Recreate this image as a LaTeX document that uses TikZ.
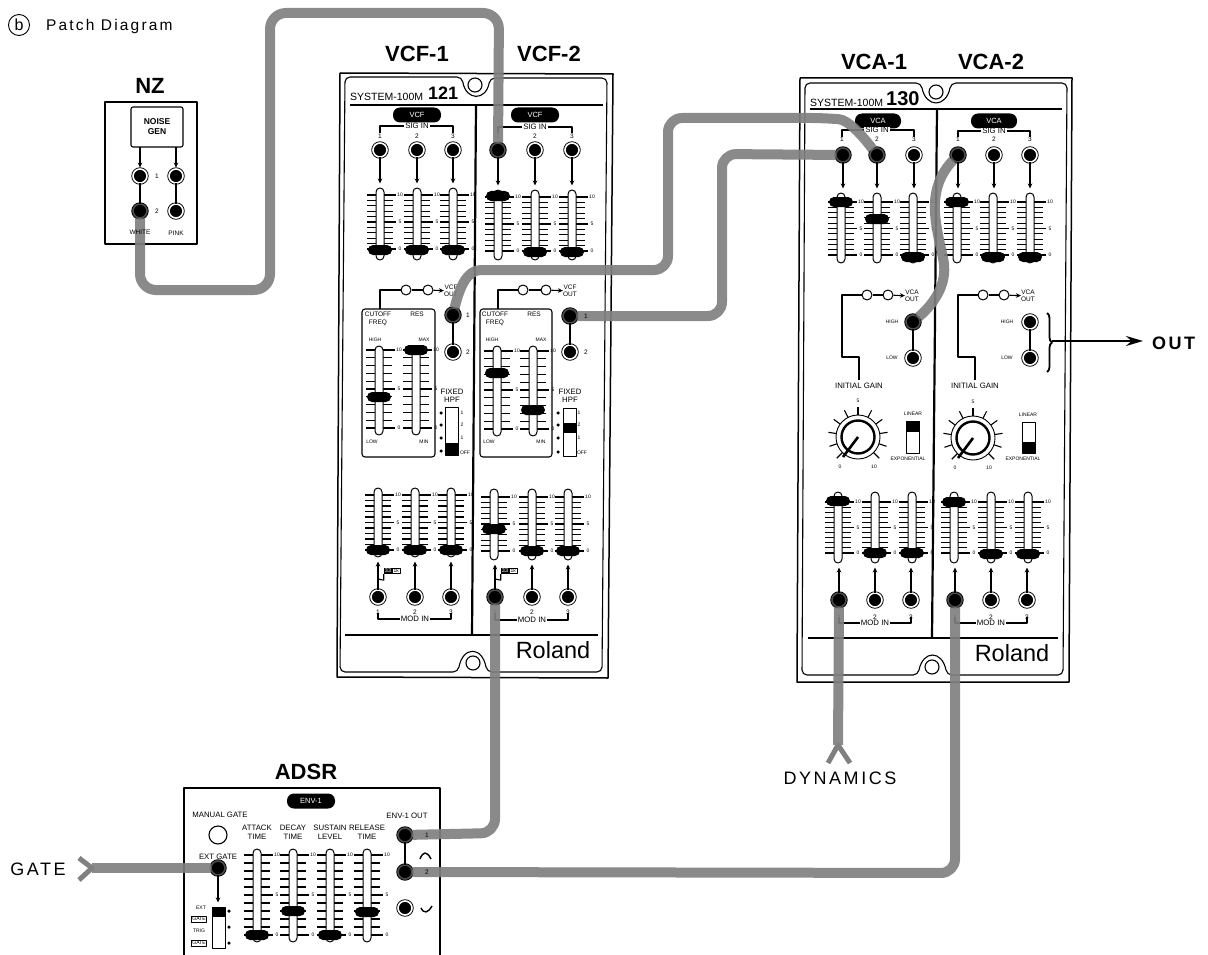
\documentclass[tikz,border=0pt]{standalone}
\usepackage{fontspec}
\setmainfont{Liberation Sans}
\newfontfamily\widefont[LetterSpace=14]{Liberation Sans}
\usepackage{tikz}
\usetikzlibrary{arrows.meta,positioning,decorations.pathreplacing}
% one fader: name, x, slot top, slot bottom, y of 10, y of 0, y of knob
\newcommand{\fader}[7]{%
  \foreach \tk in {0,...,10} {\draw[tickline] ({#2-13},{#6+(#5-#6)*\tk/10}) -- ({#2+13},{#6+(#5-#6)*\tk/10});}
  \foreach \tk/\tn in {10/a,5/b,0/c} {
    \draw[tickline] ({#2+13},{#6+(#5-#6)*\tk/10}) -- ({#2+16},{#6+(#5-#6)*\tk/10});
    \node[lbs] (n#1\tn) at ({#2+20},{#6+(#5-#6)*\tk/10}) {\tk};}
  \node[slot,minimum height=#4-#3] (f#1) at (#2,{(#3+#4)/2}) {};
  \node[knob] (k#1) at (#2,#7) {};}
% switch: name, x, top, bottom, top and bottom of the black part
\newcommand{\slideswitch}[6]{%
  \node[swbox,minimum height=#4-#3] (s#1) at (#2,{(#3+#4)/2}) {};
  \node[swblack,minimum height=#6-#5] (b#1) at (#2,{(#5+#6)/2}) {};}
% bracket with its text and the numbers 1 2 3: name, x1, x2, x3, y of bar, y of ends, y of numbers, text
\newcommand{\portbracket}[8]{%
  \node[labm,fill=white,inner xsep=1pt] (t#1) at (#3,#5) {#8};
  \coordinate (l#1) at (#2,#6); \coordinate (r#1) at (#4,#6);
  \draw[wire] (l#1) |- (t#1.west); \draw[wire] (r#1) |- (t#1.east);
  \node[lab] (x#1a) at (#2,#7) {1}; \node[lab] (x#1b) at (#3,#7) {2}; \node[lab] (x#1c) at (#4,#7) {3};}
% attenuator knob: name, x, y
\newcommand{\gainknob}[3]{%
  \foreach \aa in {225,198,...,-45} {\draw[tickline] ({#2+21*cos(\aa)},{#3-21*sin(\aa)}) -- ({#2+30*cos(\aa)},{#3-30*sin(\aa)});}
  \node[circle,draw,fill=white,minimum size=44,inner sep=0,line width=.9] (o#1) at (#2,#3) {};
  \node[circle,draw,minimum size=33,inner sep=0,line width=2.4] (i#1) at (#2,#3) {};
  \draw[line width=2.6] (i#1.center) -- ({#2-15},{#3+20});
  \node[lbs] (p#1) at (#2,{#3-36}) {5};
  \node[lbs] (q#1) at ({#2-18},{#3+30}) {0};
  \node[lbs] (w#1) at ({#2+16},{#3+30}) {10};}
\begin{document}
\begin{tikzpicture}[x=1pt,y=-1pt,line join=round,
  >={Stealth[length=5pt,width=4.5pt]},
  lab/.style={font=\fontsize{6.5}{7.5}\selectfont,align=center,inner sep=0pt},
  labm/.style={font=\fontsize{7.8}{8.6}\selectfont,align=center,inner sep=0pt},
  lbs/.style={font=\fontsize{5}{6}\selectfont,align=center,inner sep=0pt},
  ttl/.style={font=\fontsize{22}{24}\selectfont\bfseries,inner sep=0pt},
  big/.style={font=\fontsize{18}{20}\selectfont\widefont,inner sep=0pt},
  tickline/.style={line width=1.1},
  wire/.style={line width=1.1},
  panel/.style={line width=1.5},
  heavy/.style={line width=2.2},
  sarrow/.style={->,line width=1.1,shorten >=4pt},
  slot/.style={draw,fill=white,line width=1,rounded corners=4,minimum width=8,inner sep=0},
  knob/.style={fill=black,rounded corners=5,minimum width=24,minimum height=10,inner sep=0},
  swbox/.style={draw,fill=white,line width=1,minimum width=13,inner sep=0},
  swblack/.style={fill=black,minimum width=13,inner sep=0},
  dot/.style={circle,fill=black,minimum size=3.5,inner sep=0},
  lamp/.style={circle,draw,fill=white,line width=1,minimum size=10,inner sep=0},
  hole/.style={circle,draw,line width=1.1,minimum size=14,inner sep=0},
  jack/.style={circle,draw=black,fill=black,line width=.9,double=white,double distance=1.6,minimum size=14,inner sep=0},
  pjack/.style={circle,draw=black,fill=black,line width=.9,double=black!70,double distance=1.6,minimum size=14,inner sep=0},
  pill/.style={fill=black,text=white,rounded corners=7,minimum width=48,minimum height=15,inner sep=0,font=\fontsize{7.5}{8}\selectfont},
  cable/.style={line width=10,draw=black!50,draw opacity=.92},
  fork/.style={line width=5,draw=black!50}]
\useasboundingbox (0,0) rectangle (1208,955);
% heading
\node[circle,draw,line width=.9,minimum size=21,inner sep=0,font=\fontsize{16}{17}\selectfont] (mark) at (19,25) {b};
\node[anchor=west,inner sep=0,font=\fontsize{15.5}{18}\selectfont\widefont] (head) at (46,26) {Patch Diagram};
% noise generator
\node[ttl] (tNZ) at (150,86) {NZ};
\node[draw,panel,minimum width=92,minimum height=142,inner sep=0] (pNZ) at (151,173) {};
\node[draw,wire,rounded corners=2,minimum width=52,minimum height=40,inner sep=0,font=\fontsize{8.5}{10}\selectfont\bfseries,align=center] (gen) at (157,127) {NOISE\\GEN};
\foreach \n/\x/\y/\sty in {wa/140/176/jack,pa/176/176/jack,wb/140/211/pjack,pb/176/211/jack} {\node[\sty] (j\n) at (\x,\y) {};}
\draw[wire] (jwa) -- (jwb); \draw[wire] (jpa) -- (jpb);
\coordinate (gw) at (140,147); \coordinate (gp) at (176,147);
\draw[sarrow,shorten >=1pt] (gw) -- (jwa); \draw[sarrow,shorten >=1pt] (gp) -- (jpa);
\node[lab] (na) at (157,176) {1}; \node[lab] (nb) at (157,211) {2};
\node[lab] (pink) at (176,233) {PINK};
% filter panel
\node[ttl] (tVa) at (417,54) {VCF-1}; \node[ttl] (tVb) at (549,54) {VCF-2};
\draw[panel] (340,73) -- (613,74) -- (608,678) -- (337,677) -- cycle;
\draw[wire,rounded corners=5] (345,77) -- (462,77) .. controls (466,101) and (486,101) .. (490,78) -- (607,78) -- (602,672) -- (487,672) .. controls (482,646) and (463,646) .. (458,672) -- (340,672) -- cycle;
\node[hole] (hVt) at (475,85) {}; \node[hole] (hVb) at (473,663) {};
\node[anchor=west,inner sep=0,font=\fontsize{10.5}{12}\selectfont] (sysV) at (350,97) {SYSTEM-100M};
\node[anchor=west,inner sep=0,font=\fontsize{18}{20}\selectfont\bfseries] (numV) at (428,93) {121};
\node[inner sep=0,font=\fontsize{23.5}{26}\selectfont] (rolV) at (553,650) {Roland};
\draw[heavy] (350,105) -- (603,105); \draw[heavy] (476,105) -- (472,635); \draw[heavy] (345,635) -- (598,635);
\node[pill] (plVa) at (417,115) {VCF}; \node[pill] (plVb) at (535,115) {VCF};
\portbracket{sVa}{380}{417}{453}{126}{133}{136}{SIG IN}
\portbracket{sVb}{498}{535}{572}{127}{133}{136}{SIG IN}
\portbracket{mVa}{378}{415}{451}{619}{613}{612}{MOD IN}
\portbracket{mVb}{495}{532}{568}{620}{613}{612}{MOD IN}
\foreach \n/\x/\kk in {a/380/250,b/417/250,c/453/250} {\fader{Vs\n}{\x}{188}{260}{195}{249}{\kk}}
\foreach \n/\x/\kk in {d/498/196,e/535/252,f/572/252} {\fader{Vs\n}{\x}{190}{260}{197}{251}{\kk}}
\foreach \n/\x/\sty in {a/380/jack,b/417/jack,c/453/jack,d/498/pjack,e/535/jack,f/572/jack} {
  \node[\sty] (jVs\n) at (\x,150) {}; \draw[sarrow] (jVs\n) -- (jVs\n |- fVs\n.north);}
% cutoff and resonance
\foreach \n/\xa/\xb/\xc/\xd/\xo in {a/380/406/428/443/451,b/498/523/546/561/570} {
  \node[lamp] (lp\n) at (\xb,290) {}; \node[lamp] (lq\n) at (\xc,290) {};
  \node[lab] (vo\n) at (\xo,291) {VCF\\OUT};
  \draw[wire] (lp\n) -- (lq\n); \draw[->,wire] (lq\n) -- (vo\n);}
\node[draw,wire,rounded corners=3,minimum width=73,minimum height=148,inner sep=0] (bxa) at (398.5,383) {};
\node[draw,wire,rounded corners=3,minimum width=72,minimum height=148,inner sep=0] (bxb) at (516,383) {};
\draw[wire] (380,309) -- (380,290) -- (lpa); \draw[wire] (498,309) -- (498,290) -- (lpb);
\foreach \n/\y/\sty/\t in {a/315/pjack/1,b/352/jack/2} {
  \node[\sty] (oa\n) at (453,\y) {}; \node[lab] (ola\n) at (468,\y) {\t};}
\foreach \n/\y/\sty/\t in {a/316/pjack/1,b/352/jack/2} {
  \node[\sty] (ob\n) at (570,\y) {};}
\node[lab] (olbb) at (586,352) {2};
\draw[wire] (oaa) -- (oab); \draw[wire] (oba) -- (obb);
\node[lab] (cfa) at (378,319) {CUTOFF\\FREQ}; \node[lab] (rsa) at (417,314) {RES};
\node[lab] (cfb) at (495,319) {CUTOFF\\FREQ}; \node[lab] (rsb) at (534,314) {RES};
\foreach \n/\x/\t in {ha/375/HIGH,xa/424/MAX,hb/492/HIGH,xb/541/MAX} {\node[lbs] (\n) at (\x,340) {\t};}
\foreach \n/\x/\t in {la/372/LOW,ma/424/MIN,lb/489/LOW,mb/541/MIN} {\node[lbs] (\n) at (\x,442) {\t};}
\fader{Ca}{379}{346}{435}{350}{428}{397}
\fader{Ra}{416}{346}{435}{350}{428}{350}
\fader{Cb}{497}{346}{436}{351}{429}{373}
\fader{Rb}{533}{346}{436}{351}{429}{410}
% fixed high pass
\node[labm] (hpa) at (452,396) {FIXED\\HPF}; \node[labm] (hpb) at (570,396) {FIXED\\HPF};
\slideswitch{ha}{451.5}{407}{455}{443}{455} \slideswitch{hb}{569.5}{408}{456}{423}{433}
\foreach \i/\y/\t in {1/413/1,2/425/2,3/438/1} {
  \node[dot] (da\i) at (441,\y) {}; \node[lbs] (ta\i) at (462,\y) {\t};
  \node[dot] (db\i) at (558,\y) {}; \node[lbs] (tb\i) at (579,\y) {\t};}
\node[dot] (da4) at (441,451) {}; \node[lbs] (ta4) at (465,453) {OFF};
\node[dot] (db4) at (558,452) {}; \node[lbs] (tb4) at (582,453) {OFF};
% filter modulation
\foreach \n/\x in {a/378,b/415,c/451} {\fader{Vm\n}{\x}{488}{557}{495}{550}{550}}
\foreach \n/\x/\kk in {d/494/529,e/532/551,f/568/551} {\fader{Vm\n}{\x}{489}{560}{497}{551}{\kk}}
\foreach \n/\x/\sty in {a/378/jack,b/415/jack,c/451/jack,d/495/pjack,e/532/jack,f/568/jack} {
  \node[\sty] (jVm\n) at (\x,597) {}; \draw[sarrow] (jVm\n) -- (jVm\n |- fVm\n.south);}
\foreach \n/\x/\xj in {a/388/378,b/505/495} {
  \node[fill=black,text=white,inner sep=1pt,font=\fontsize{5.5}{6}\selectfont] (tag\n) at (\x,571) {33};
  \node[lbs,draw,line width=.8,inner sep=1pt,right=0pt of tag\n] (tg\n) {1k};
  \draw[wire] (tag\n.south west) -- ++(0,6) -- (\xj,579);}
% amplifier panel
\node[ttl] (tAa) at (874,62) {VCA-1}; \node[ttl] (tAb) at (991,62) {VCA-2};
\draw[panel] (800,78) -- (1072,78) -- (1069,682) -- (797,682) -- cycle;
\draw[wire,rounded corners=5] (805,83) -- (921,83) .. controls (926,108) and (946,108) .. (951,83) -- (1067,83) -- (1063,675) -- (947,675) .. controls (942,650) and (923,650) .. (918,675) -- (802,675) -- cycle;
\node[hole] (hAt) at (936,92) {}; \node[hole] (hAb) at (932,667) {};
\node[anchor=west,inner sep=0,font=\fontsize{10.5}{12}\selectfont] (sysA) at (810,103) {SYSTEM-100M};
\node[anchor=west,inner sep=0,font=\fontsize{20}{22}\selectfont\bfseries] (numA) at (886,99) {130};
\node[inner sep=0,font=\fontsize{23.5}{26}\selectfont] (rolA) at (1012,653) {Roland};
\draw[heavy] (810,109) -- (1062,109); \draw[heavy] (937,109) -- (932,638); \draw[heavy] (808,638) -- (1058,638);
\node[pill,minimum width=46] (plAa) at (878,121) {VCA}; \node[pill,minimum width=46] (plAb) at (994,121) {VCA};
\portbracket{sAa}{842}{877}{914}{130}{137}{139}{SIG IN}
\portbracket{sAb}{958}{994}{1030}{131}{137}{139}{SIG IN}
\portbracket{mAa}{839}{875}{911}{623}{617}{617}{MOD IN}
\portbracket{mAb}{955}{991}{1027}{623}{617}{617}{MOD IN}
\foreach \n/\x/\kk in {a/841/202,b/877/219,c/913/257,d/957/202,e/993/257,f/1030/257} {\fader{As\n}{\x}{193}{263}{202}{255}{\kk}}
\foreach \n/\x/\sty in {a/843/pjack,b/877/pjack,c/914/jack,d/958/pjack,e/994/jack,f/1030/jack} {
  \node[\sty] (jAs\n) at (\x,155) {}; \draw[sarrow] (jAs\n) -- (jAs\n |- fAs\n.north);}
% initial gain
\foreach \n/\xa/\xb/\xc/\xd/\xo/\xt in {a/842/867/888/903/912/859,b/958/983/1004/1019/1028/975} {
  \node[lamp] (gp\n) at (\xb,295) {}; \node[lamp] (gq\n) at (\xc,295) {};
  \node[lab] (ao\n) at (\xo,296) {VCA\\OUT};
  \node[labm] (ig\n) at (\xt,386) {INITIAL GAIN};
  \draw[wire] (gp\n) -- (gq\n); \draw[->,wire] (gq\n) -- (ao\n);
  \draw[wire] (\xt,380) -- (\xt,357) -- (\xa,357) -- (\xa,295) -- (gp\n);}
\node[pjack] (hia) at (913,322) {}; \node[jack] (loa) at (913,358) {}; \draw[wire] (hia) -- (loa);
\node[jack] (hib) at (1030,322) {}; \node[jack] (lob) at (1030,358) {}; \draw[wire] (hib) -- (lob);
\foreach \n/\x/\y/\t in {tha/892/322/HIGH,tla/892/358/LOW,thb/1007/322/HIGH,tlb/1007/358/LOW} {\node[lbs] (\n) at (\x,\y) {\t};}
\gainknob{a}{858}{437} \gainknob{b}{973}{438}
\slideswitch{la}{913}{421}{453}{421}{432} \slideswitch{lb}{1029}{422}{453}{442}{453}
\node[lbs] (lna) at (913,414) {LINEAR}; \node[lbs] (lnb) at (1028,415) {LINEAR};
\node[lbs] (exa) at (908,459) {EXPONENTIAL}; \node[lbs] (exb) at (1023,459) {EXPONENTIAL};
% amplifier modulation
\foreach \n/\x/\kk in {a/838/501,b/875/553,c/912/553,d/954/502,e/991/554,f/1028/554} {\fader{Am\n}{\x}{492}{563}{502}{553}{\kk}}
\foreach \n/\x/\sty in {a/839/pjack,b/875/jack,c/911/jack,d/955/pjack,e/991/jack,f/1027/jack} {
  \node[\sty] (jAm\n) at (\x,600) {}; \draw[sarrow] (jAm\n) -- (jAm\n |- fAm\n.south);}
% output
\coordinate (bru) at (1047,313); \coordinate (brd) at (1047,372);
\draw[line width=1.8,decorate,decoration={brace,amplitude=5pt}] (bru) -- (brd);
\coordinate (brt) at (1052,341);
\node[anchor=west,inner sep=0,font=\fontsize{18}{20}\selectfont\widefont\bfseries] (outl) at (1152,343) {OUT};
\draw[-{Stealth[length=17pt,width=10pt]},line width=2,shorten >=9pt] (brt) -- (outl.west |- brt);
% envelope panel
\node[ttl] (tEn) at (306,772) {ADSR};
\draw[panel] (184,956) -- (184,788) -- (440,788) -- (440,956);
\node[pill] (plE) at (311,801) {ENV-1};
\node[labm] (mgt) at (220,815) {MANUAL GATE};
\node[circle,draw,line width=1.1,minimum size=18,inner sep=0] (btn) at (218,835) {};
\node[labm] (egt) at (218,857) {EXT GATE};
\node[pjack] (jgt) at (218,868) {};
\slideswitch{g}{218.5}{907}{948}{907}{917}
\draw[sarrow] (jgt) -- (jgt |- sg.north);
\foreach \i/\y in {1/911,2/927,3/943} {\node[dot] (de\i) at (229,\y) {};}
\node[lbs] (tex) at (201,908) {EXT};
\node[lbs,draw,inner sep=1pt] (tga) at (199,919) {GATE};
\node[lbs] (ttr) at (199,931) {TRIG};
\node[lbs,draw,inner sep=1pt] (tgb) at (199,943) {GATE};
\foreach \n/\x/\kk/\t in {a/257/935/ATTACK\\TIME,b/293/911/DECAY\\TIME,c/330/935/SUSTAIN\\LEVEL,d/367/912/RELEASE\\TIME} {
  \fader{En\n}{\x}{849}{942}{855}{935}{\kk}
  \node[labm] (lE\n) at (\x,832) {\t};}
\node[labm] (eou) at (407,816) {ENV-1 OUT};
\node[pjack] (ea) at (405,835) {}; \node[pjack] (eb) at (405,872) {}; \node[jack] (ec) at (405,908) {};
\draw[wire] (ea) -- (eb);
\draw[line width=1.4] (420,859) .. controls (423,851) and (427,851) .. (431,859);
\draw[line width=1.4] (421,908) .. controls (424,914) and (428,913) .. (432,906);
% patch cords
\draw[cable,rounded corners=16] (jwb) -- (140,290) -- (270,290) -- (270,13) -- (499,13) -- (jVsd);
\draw[cable,rounded corners=14] (oaa) .. controls (460,285) and (468,270) .. (495,270) -- (668,270) -- (668,118) -- (825,118) .. controls (848,120) and (862,135) .. (jAsb);
\draw[cable,rounded corners=14] (oba) -- (722,316) -- (722,154) -- (jAsa);
\draw[cable] (hia) .. controls (938,300) and (948,280) .. (943,258) .. controls (936,225) and (925,190) .. (jAsd);
\draw[cable,rounded corners=14] (jVmd) -- (495,833) -- (ea);
\draw[cable,rounded corners=14] (eb) -- (955,873) -- (jAmd);
\coordinate (dyn) at (838,745); \coordinate (dyl) at (828,763); \coordinate (dyr) at (850,763);
\draw[cable] (jAma) -- (dyn);
\draw[fork] (dyl) -- (dyn) -- (dyr);
\node[big] (ldyn) at (840,778) {DYNAMICS};
\coordinate (gtj) at (92,868); \coordinate (gtu) at (79,858); \coordinate (gtd) at (79,880);
\draw[cable] (jgt) -- (gtj);
\draw[fork] (gtu) -- (gtj) -- (gtd);
\node[big] (lgat) at (38,869) {GATE};
% labels that lie on the cords
\node[lab] (white) at (140,232) {WHITE};
\node[lab] (olba) at (586,316) {1};
\node[lab] (ena) at (427,835) {1}; \node[lab] (enb) at (427,872) {2};
\end{tikzpicture}
\end{document}
